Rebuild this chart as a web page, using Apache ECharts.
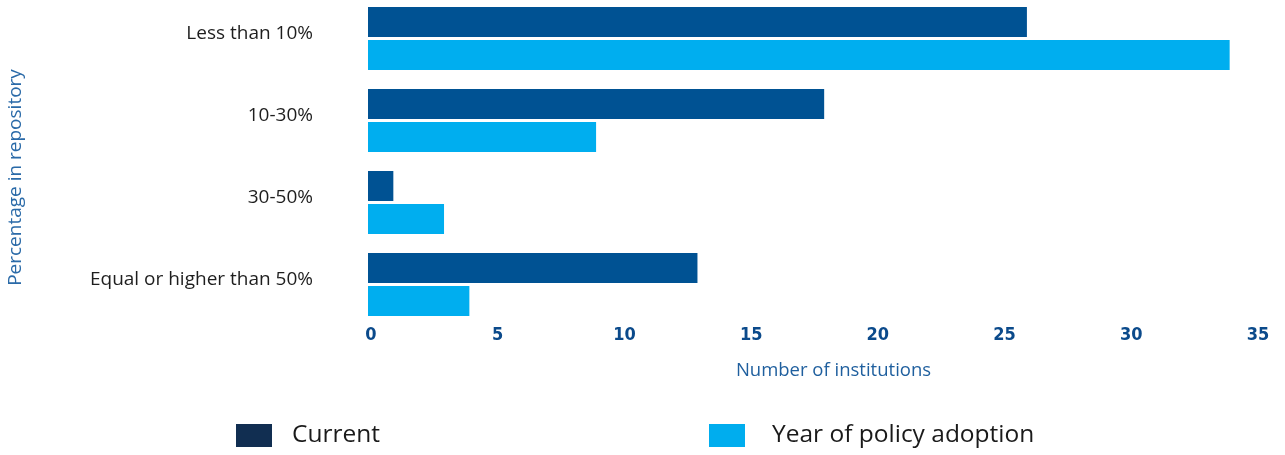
<!DOCTYPE html>
<html>
<head>
<meta charset="utf-8">
<script src="https://cdn.jsdelivr.net/npm/echarts@6/dist/echarts.min.js"></script>
<style>
  html, body { margin: 0; padding: 0; background: #ffffff; }
  #chart { width: 1285px; height: 455px; }
</style>
</head>
<body>
<div id="chart"></div>
<script>
// Share of deposits held in the repository, by number of institutions
const categories = ['Less than 10%', '10-30%', '30-50%', 'Equal or higher than 50%'];
const currentValues = [26, 18, 1, 13];
const adoptionValues = [34, 9, 3, 4];
const xTicks = [0, 5, 10, 15, 20, 25, 30, 35];

const legendFont = { fontFamily: 'Open Sans', fontSize: 24.5, color: '#1a1a1a' };

const chart = echarts.init(document.getElementById('chart'));
chart.setOption({
  animation: false,
  grid: { left: 368, top: -2.5, width: 887, height: 328, outerBoundsMode: 'none' },
  legend: [
    {
      bottom: 7, left: 236, padding: 0, itemWidth: 36, itemHeight: 23, icon: 'rect',
      textStyle: Object.assign({ padding: [0, 0, 0, 15] }, legendFont),
      data: [{ name: 'Current', itemStyle: { color: '#112e51' } }]
    },
    {
      bottom: 7, left: 709, padding: 0, itemWidth: 36, itemHeight: 23, icon: 'rect',
      textStyle: Object.assign({ padding: [0, 0, 0, 22] }, legendFont),
      data: [{ name: 'Year of policy adoption', itemStyle: { color: '#00adee' } }]
    }
  ],
  xAxis: {
    type: 'value',
    min: xTicks[0],
    max: xTicks[xTicks.length - 1],
    interval: 5,
    name: 'Number of institutions',
    nameLocation: 'middle',
    nameGap: 36,
    nameTextStyle: { fontFamily: 'Open Sans', fontSize: 18.5, color: '#1f5f9e', padding: [0, 0, 0, 44] },
    axisLine: { show: false },
    axisTick: { show: false },
    splitLine: { show: false },
    axisLabel: { margin: 1, fontFamily: 'Liberation Sans Narrow, DejaVu Sans Condensed, Roboto', fontWeight: 'bold', fontSize: 18, color: '#0b4a8b', padding: [0, 0, 0, 6] }
  },
  yAxis: {
    type: 'category',
    inverse: true,
    data: categories,
    name: 'Percentage in repository',
    nameLocation: 'middle',
    nameRotate: 90,
    nameGap: 343,
    nameTextStyle: { fontFamily: 'Open Sans', fontSize: 19, color: '#2a6aa8', padding: [0, 32, 0, 0] },
    axisLine: { show: false },
    axisTick: { show: false },
    axisLabel: { margin: 55, fontFamily: 'Open Sans', fontSize: 19, color: '#1e1e1e', verticalAlign: 'bottom', lineHeight: 9 }
  },
  series: [
    {
      name: 'Current',
      type: 'bar',
      data: currentValues,
      barWidth: 30,
      barGap: '10%',
      itemStyle: { color: '#005293' }
    },
    {
      name: 'Year of policy adoption',
      type: 'bar',
      data: adoptionValues,
      barWidth: 30,
      barGap: '10%',
      itemStyle: { color: '#00aeef' }
    }
  ]
});
</script>
</body>
</html>
